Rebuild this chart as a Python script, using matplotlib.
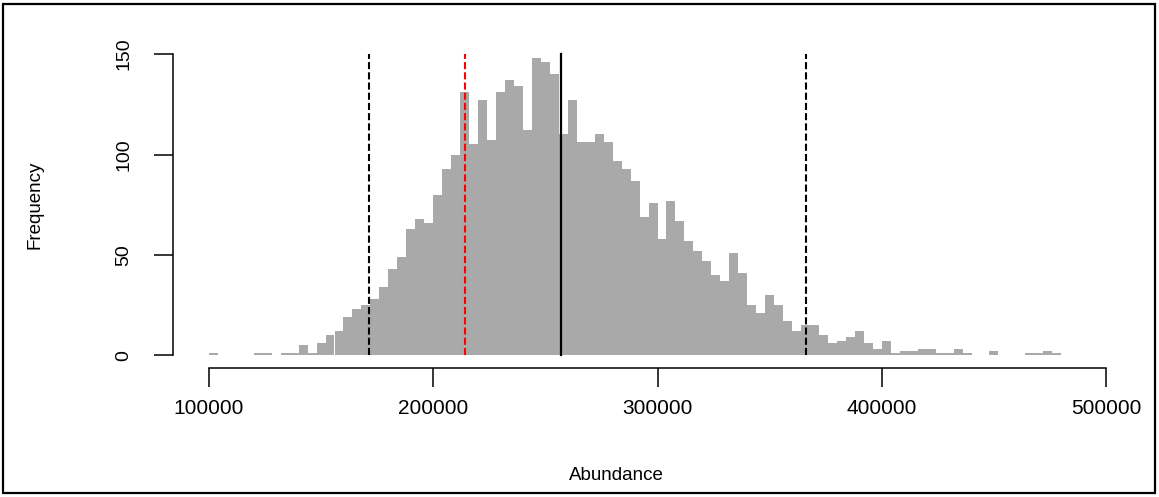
import numpy as np
import matplotlib.pyplot as plt
from matplotlib.patches import Rectangle

plt.rcParams['font.family'] = ['Liberation Sans', 'DejaVu Sans']

# Histogram counts, bins of 4000 starting at 100000
counts = [1, 0, 0, 0, 0, 1, 1, 0, 1, 1,
          5, 1, 6, 10, 12, 19, 23, 25, 28, 34,
          43, 49, 63, 68, 66, 80, 93, 100, 131, 105,
          127, 107, 131, 137, 134, 112, 148, 146, 140, 110,
          127, 106, 106, 110, 106, 97, 93, 87, 69, 76,
          58, 77, 67, 57, 52, 47, 40, 37, 51, 41,
          25, 21, 30, 25, 17, 12, 15, 15, 10, 6,
          7, 9, 12, 6, 3, 7, 1, 2, 2, 3,
          3, 1, 1, 3, 1, 0, 0, 2, 0, 0,
          0, 1, 1, 2, 1]
bin_start = 100000
bin_width = 4000

# Reference lines
ci_lower = 171400
ci_upper = 366200
median_val = 257100
ref_val = 214000

xticks = [100000, 200000, 300000, 400000, 500000]
yticks = [0, 50, 100, 150]

W, H = 1159, 497
fig = plt.figure(figsize=(W/100, H/100), dpi=100)
# plot region in pixels: left 173, right 1142, top 42, bottom 367.5
ax = fig.add_axes([173/W, 1-367.5/H, (1142-173)/W, (367.5-42)/H])

edges = bin_start + bin_width*np.arange(len(counts))
ax.bar(edges, counts, width=bin_width, align='edge', color='#a9a9a9', linewidth=0)

dash = (0, (3.4, 1.5))
ax.plot([median_val, median_val], [0, 150], color='black', lw=1.6)
for x in (ci_lower, ci_upper):
    ax.plot([x, x], [0, 150], color='black', lw=1.5, ls=dash)
ax.plot([ref_val, ref_val], [0, 150], color='red', lw=1.5, ls=dash)

ax.set_xlim(84000, 516000)
ax.set_ylim(-6, 156)
ax.spines['top'].set_visible(False)
ax.spines['right'].set_visible(False)
ax.spines['left'].set_bounds(0, 150)
ax.spines['bottom'].set_bounds(100000, 500000)
ax.spines['left'].set_linewidth(1.1)
ax.spines['bottom'].set_linewidth(1.1)

ax.set_xticks(xticks)
ax.set_xticklabels([str(v) for v in xticks])
ax.set_yticks(yticks)
ax.set_yticklabels([str(v) for v in yticks], rotation=90, va='center')
ax.tick_params(axis='both', length=14, width=1.1, colors='black')
ax.tick_params(axis='x', pad=9, labelsize=15)
ax.tick_params(axis='y', pad=15, labelsize=14)

ax.set_xlabel('Abundance', fontsize=13.5, va='center')
ax.xaxis.set_label_coords((616-173)/969, (367.5-476)/325.5)
ax.set_ylabel('Frequency', fontsize=13.5, va='center')
ax.yaxis.set_label_coords((35-173)/969, 0.5)

fig.add_artist(Rectangle((3/W, 4/H), 1152/W, 489/H, transform=fig.transFigure,
                         fill=False, lw=1.6, ec='black'))

fig.savefig('out.png', dpi=100)
